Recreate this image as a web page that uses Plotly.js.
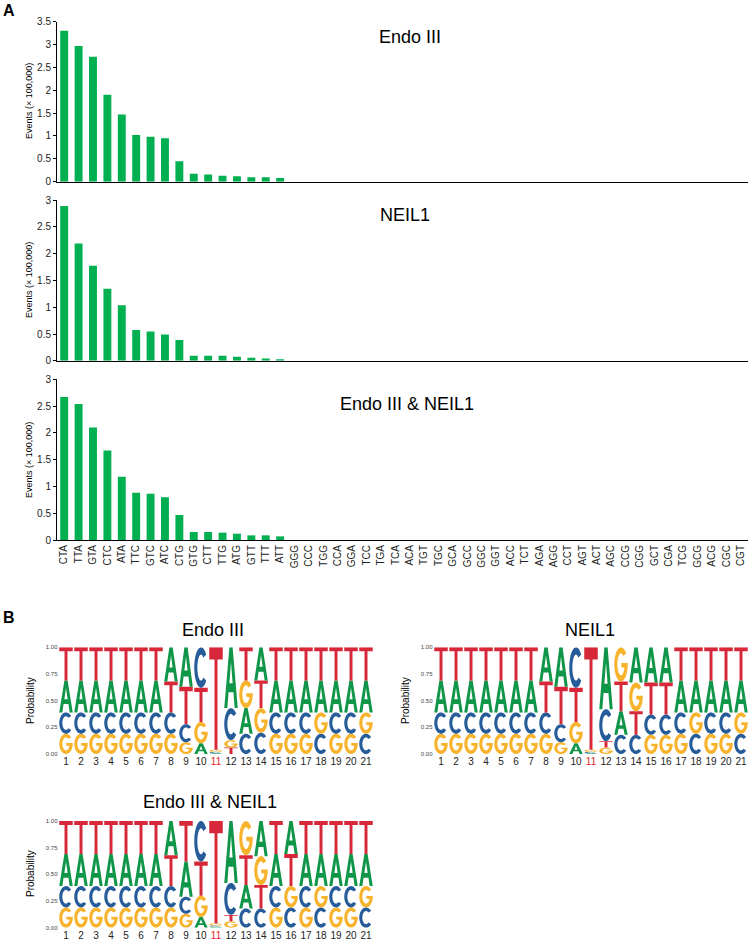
<!DOCTYPE html>
<html><head><meta charset="utf-8">
<script src="https://cdn.plot.ly/plotly-3.0.1.min.js"></script>
<style>body{margin:0;background:#fff}#chart{width:750px;height:943px}</style>
</head><body><div id="chart"></div>
<script>
// ---------- Panel A data ----------
const trinucleotides = ['CTA','TTA','GTA','CTC','ATA','TTC','GTC','ATC','CTG','GTG','CTT','TTG','ATG','GTT','TTT','ATT',
  'GGG','CCC','TGG','CCA','GGA','TCC','TGA','TCA','ACA','TGT','TGC','GCA','GCC','GGC','GGT','ACC',
  'TCT','AGA','AGG','CCT','AGT','ACT','AGC','CCG','CGG','GCT','CGA','TCG','GCG','ACG','CGC','CGT'];
const endo3Events = [3.30,2.97,2.735,1.90,1.47,1.02,0.985,0.95,0.445,0.175,0.16,0.13,0.117,0.10,0.10,0.08,
  0,0,0,0,0,0,0,0,0,0,0,0,0,0,0,0,0,0,0,0,0,0,0,0,0,0,0,0,0,0,0,0];
const neil1Events = [2.89,2.19,1.775,1.345,1.035,0.575,0.545,0.49,0.39,0.093,0.093,0.093,0.075,0.056,0.044,0.031,
  0,0,0,0,0,0,0,0,0,0,0,0,0,0,0,0,0,0,0,0,0,0,0,0,0,0,0,0,0,0,0,0];
const bothEvents = [2.67,2.54,2.10,1.67,1.18,0.88,0.865,0.80,0.467,0.15,0.15,0.137,0.118,0.087,0.087,0.068,
  0,0,0,0,0,0,0,0,0,0,0,0,0,0,0,0,0,0,0,0,0,0,0,0,0,0,0,0,0,0,0,0];

// ---------- Panel B data (probabilities per position) ----------
const positions = [1,2,3,4,5,6,7,8,9,10,11,12,13,14,15,16,17,18,19,20,21];
const endo3_A = [.30,.30,.30,.30,.30,.30,.30,.32,.37,.10,.01,.57,.24,.31,.30,.30,.30,.30,.30,.30,.30];
const endo3_C = [.20,.20,.20,.20,.20,.20,.20,.20,.17,.38,.01,.30,.19,.20,.20,.20,.20,.19,.20,.20,.19];
const endo3_G = [.19,.19,.19,.19,.19,.19,.19,.19,.11,.20,.02,.07,.26,.23,.19,.19,.19,.20,.19,.19,.20];
const endo3_T = [.31,.31,.31,.31,.31,.31,.31,.29,.35,.32,.96,.06,.31,.26,.31,.31,.31,.31,.31,.31,.31];

const neil1_A = [.30,.30,.30,.30,.30,.30,.30,.32,.37,.10,.01,.58,.22,.33,.33,.33,.30,.30,.30,.30,.30];
const neil1_C = [.20,.20,.20,.20,.20,.20,.20,.20,.17,.38,.01,.30,.18,.18,.19,.19,.20,.19,.20,.20,.19];
const neil1_G = [.19,.19,.19,.19,.19,.19,.19,.19,.11,.20,.02,.06,.32,.27,.18,.18,.19,.20,.19,.19,.20];
const neil1_T = [.31,.31,.31,.31,.31,.31,.31,.29,.35,.32,.96,.06,.28,.22,.30,.30,.31,.31,.31,.31,.31];

const both_A = [.30,.30,.30,.30,.30,.30,.30,.32,.33,.10,.01,.58,.22,.33,.30,.31,.30,.30,.30,.30,.30];
const both_C = [.20,.20,.20,.20,.20,.20,.20,.20,.16,.38,.01,.30,.18,.18,.20,.19,.20,.19,.20,.20,.19];
const both_G = [.19,.19,.19,.19,.19,.19,.19,.19,.13,.20,.02,.06,.32,.27,.19,.20,.19,.20,.19,.19,.20];
const both_T = [.31,.31,.31,.31,.31,.31,.31,.29,.38,.32,.96,.06,.28,.22,.31,.30,.31,.31,.31,.31,.31];

// ---------- helpers ----------
const W = 750, H = 943;
const fx = p => p / W;
const fy = p => 1 - p / H;
const FONT = 'Liberation Sans, Arial, sans-serif';
const baseColors = {A:'#109648', C:'#255C99', G:'#F7B32B', T:'#D62839'};

function arc(cx, cy, rx, ry, a0, a1, n) {
  const pts = [];
  for (let i = 0; i <= n; i++) {
    const a = (a0 + (a1 - a0) * i / n) * Math.PI / 180;
    pts.push([cx + rx * Math.cos(a), cy + ry * Math.sin(a)]);
  }
  return pts;
}
function glyph(letter) {
  if (letter === 'T') {
    const bt = 0.12, sw = 0.22;
    return [[[0,1-bt],[0.5-sw/2,1-bt],[0.5-sw/2,0],[0.5+sw/2,0],[0.5+sw/2,1-bt],[1,1-bt],[1,1],[0,1]]];
  }
  if (letter === 'A') {
    return [[[0,0],[0.23,0],[0.32,0.26],[0.68,0.26],[0.77,0],[1,0],[0.62,1],[0.38,1]],
            [[0.38,0.41],[0.5,0.76],[0.62,0.41]]];
  }
  if (letter === 'C') {
    return [arc(.5,.5,.5,.5,40,320,30).concat(arc(.5,.5,.27,.32,310,50,30))];
  }
  // G
  return [arc(.5,.5,.5,.5,40,355,30).concat([[1,0.54],[0.52,0.54],[0.52,0.42]]).concat(arc(.5,.5,.27,.32,340,50,30))];
}
function logoShapes(probs, xref, yref) {
  const shapes = [];
  const pad = 0.05;
  positions.forEach((pos, i) => {
    const letters = ['A','C','G','T'].map(l => ({l, p: probs[l][i]})).sort((a,b) => a.p - b.p);
    let y0 = 0;
    letters.forEach(({l, p}) => {
      const path = glyph(l).map(poly => poly.map((pt, k) => {
        const x = pos - 0.5 + pad + pt[0] * (1 - 2 * pad);
        const y = y0 + pt[1] * p;
        return (k ? 'L' : 'M') + x.toFixed(4) + ',' + y.toFixed(5);
      }).join(' ') + ' Z').join(' ');
      shapes.push({type:'path', xref, yref, path, fillcolor: baseColors[l], line:{width:0}, layer:'above'});
      y0 += p;
    });
  });
  return shapes;
}

// ---------- traces ----------
const green = '#00B050';
const barTrace = (y, xa, ya) => ({type:'bar', x: trinucleotides, y, xaxis: xa, yaxis: ya,
  marker:{color: green}, width: 0.55, hoverinfo:'x+y'});
const data = [
  barTrace(endo3Events, 'x', 'y'),
  barTrace(neil1Events, 'x2', 'y2'),
  barTrace(bothEvents, 'x3', 'y3'),
  {type:'scatter', x:positions, y:positions.map(()=>0), xaxis:'x4', yaxis:'y4', mode:'none', hoverinfo:'skip'},
  {type:'scatter', x:positions, y:positions.map(()=>0), xaxis:'x5', yaxis:'y5', mode:'none', hoverinfo:'skip'},
  {type:'scatter', x:positions, y:positions.map(()=>0), xaxis:'x6', yaxis:'y6', mode:'none', hoverinfo:'skip'}
];

const barX = (anchor, showLabels) => ({domain:[fx(57), fx(748)], anchor, type:'category',
  range:[-0.5, trinucleotides.length - 0.5], showline:true, linecolor:'#000', linewidth:1,
  ticks:'', showticklabels: showLabels, tickangle:-90, tickfont:{family:FONT, size:10, color:'#222'},
  showgrid:false, zeroline:false, fixedrange:true});
const barY = (anchor, top, bottom, maxv) => ({domain:[fy(bottom), fy(top)], anchor, range:[0, maxv], dtick:0.5,
  showline:true, linecolor:'#000', linewidth:1, ticks:'outside', ticklen:3, tickcolor:'#000',
  tickfont:{family:FONT, size:10, color:'#222'}, showgrid:false, zeroline:false});

const logoTicks = positions.map(p => p === 11 ? '<span style="color:#E8202A">11</span>' : String(p));
const logoX = (anchor, left, right) => ({domain:[fx(left), fx(right)], anchor, range:[0.5, 21.5],
  tickvals: positions, ticktext: logoTicks, ticks:'', showline:false, showgrid:false, zeroline:false,
  tickfont:{family:FONT, size:10, color:'#222'}});
const logoY = (anchor, top, bottom) => ({domain:[fy(bottom), fy(top)], anchor, range:[0, 1],
  tickvals:[0,0.25,0.5,0.75,1], ticktext:['0.00','0.25','0.50','0.75','1.00'], ticks:'', showline:false,
  showgrid:false, zeroline:false, tickfont:{family:FONT, size:6, color:'#444'}});

const ann = (x, y, text, size, extra) => Object.assign({xref:'paper', yref:'paper', x: fx(x), y: fy(y), text,
  showarrow:false, xanchor:'center', yanchor:'middle', font:{family:FONT, size, color:'#000'}}, extra || {});

const layout = {
  width: W, height: H, margin:{l:0, r:0, t:0, b:0}, paper_bgcolor:'#fff', plot_bgcolor:'rgba(0,0,0,0)',
  showlegend:false, bargap:0.45,
  xaxis: barX('y', false), yaxis: barY('x', 21.7, 181.7, 3.5),
  xaxis2: barX('y2', false), yaxis2: barY('x2', 200, 360.8, 3),
  xaxis3: barX('y3', true), yaxis3: barY('x3', 379.3, 540, 3),
  xaxis4: logoX('y4', 58.5, 373.5), yaxis4: logoY('x4', 647.3, 754),
  xaxis5: logoX('y5', 433.5, 748.5), yaxis5: logoY('x5', 647.3, 754),
  xaxis6: logoX('y6', 58.5, 373.5), yaxis6: logoY('x6', 821, 927.7),
  shapes: [].concat(
    logoShapes({A:endo3_A, C:endo3_C, G:endo3_G, T:endo3_T}, 'x4', 'y4'),
    logoShapes({A:neil1_A, C:neil1_C, G:neil1_G, T:neil1_T}, 'x5', 'y5'),
    logoShapes({A:both_A, C:both_C, G:both_G, T:both_T}, 'x6', 'y6')
  ),
  annotations: [
    ann(9, 10, '<b>A</b>', 16),
    ann(9, 617, '<b>B</b>', 16),
    ann(410, 37, 'Endo III', 18),
    ann(405, 215, 'NEIL1', 18),
    ann(407, 404, 'Endo III &amp; NEIL1', 18),
    ann(29, 101, 'Events (× 100,000)', 9, {textangle:-90}),
    ann(29, 280, 'Events (× 100,000)', 9, {textangle:-90}),
    ann(29, 460, 'Events (× 100,000)', 9, {textangle:-90}),
    ann(213, 630, 'Endo III', 18),
    ann(590, 630, 'NEIL1', 18),
    ann(210, 802, 'Endo III &amp; NEIL1', 18),
    ann(30, 701, 'Probability', 10, {textangle:-90}),
    ann(405, 701, 'Probability', 10, {textangle:-90}),
    ann(30, 874, 'Probability', 10, {textangle:-90})
  ]
};

Plotly.newPlot('chart', data, layout, {staticPlot:true, displayModeBar:false});
</script></body></html>
